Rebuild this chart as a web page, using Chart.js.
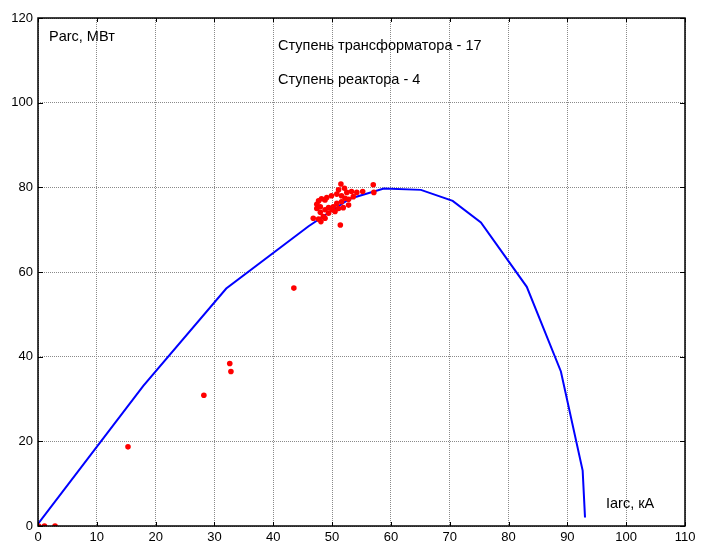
<!DOCTYPE html>
<html lang="ru">
<head>
<meta charset="UTF-8">
<title>Parc(Iarc)</title>
<script src="https://cdn.jsdelivr.net/npm/chart.js"></script>
<style>
  html, body { margin: 0; padding: 0; background: #fff; }
  #wrap { width: 701px; height: 544px; }
</style>
</head>
<body>
<div id="wrap"><canvas id="arc" width="701" height="544"></canvas></div>
<script>
// arc power characteristic, kA -> MW
const curveI = [0, 17.9, 32.0, 46.0, 53.0, 58.8, 65.1, 70.5, 75.3, 83.1, 88.9, 92.6, 93.0];
const curveP = [0.5, 33.1, 56.1, 70.8, 77.3, 79.7, 79.4, 76.8, 71.7, 56.5, 36.5, 13.1, 2.0];

// measured points
const measI = [0.1, 1.1, 2.9, 15.3, 28.2, 32.6, 32.8, 43.5,
  51.5, 57.0, 57.1, 52.1, 52.5, 51.1, 50.8, 51.6, 53.3, 54.2, 55.2, 53.6,
  52.8, 49.9, 49.1, 48.2, 47.7, 47.4, 48.8, 48.0, 47.4, 49.4, 50.2, 50.8,
  51.6, 52.2, 51.9, 50.0, 48.8, 48.0, 48.5, 47.7, 46.8, 48.1, 48.8, 51.4,
  50.5, 51.1, 52.8, 49.4];
const measP = [0, 0, 0, 18.7, 30.9, 38.4, 36.5, 56.2,
  80.8, 80.6, 78.8, 79.8, 78.8, 79.4, 78.4, 78.0, 79.0, 78.8, 79.0, 77.8,
  77.2, 78.0, 77.6, 77.3, 76.8, 76.0, 77.0, 75.4, 75.0, 75.2, 75.4, 76.2,
  76.6, 77.4, 75.2, 74.7, 74.7, 74.1, 73.1, 72.5, 72.7, 71.9, 72.7, 71.1,
  74.3, 75.0, 75.8, 73.9];

const xTicks = [0, 10, 20, 30, 40, 50, 60, 70, 80, 90, 100, 110];
const yTicks = [0, 20, 40, 60, 80, 100, 120];

const toXY = (xs, ys) => xs.map((x, i) => ({ x: x, y: ys[i] }));

const FONT = 'Liberation Sans, Arial, sans-serif';

// box around the axes with inward ticks, plus text labels
const frame = {
  id: 'frame',
  afterDraw(chart) {
    const { ctx, chartArea: a, scales } = chart;
    ctx.save();
    ctx.strokeStyle = '#000';
    ctx.lineWidth = 1;
    ctx.beginPath();
    xTicks.forEach(v => {
      const px = Math.round(scales.x.getPixelForValue(v)) + 0.5;
      ctx.moveTo(px, a.bottom); ctx.lineTo(px, a.bottom - 4);
      ctx.moveTo(px, a.top); ctx.lineTo(px, a.top + 4);
    });
    yTicks.forEach(v => {
      const py = Math.round(scales.y.getPixelForValue(v)) + 0.5;
      ctx.moveTo(a.left, py); ctx.lineTo(a.left + 5, py);
      ctx.moveTo(a.right, py); ctx.lineTo(a.right - 5, py);
    });
    ctx.stroke();
    ctx.lineWidth = 1.5;
    ctx.strokeRect(a.left, a.top, a.right - a.left, a.bottom - a.top);

    ctx.fillStyle = '#000';
    ctx.textBaseline = 'middle';
    ctx.textAlign = 'left';
    ctx.font = '14.5px ' + FONT;
    ctx.fillText('Parc, МВт', a.left + 11, a.top + 19);
    ctx.fillText('Ступень трансформатора - 17', a.left + 240, a.top + 28);
    ctx.fillText('Ступень реактора - 4', a.left + 240, a.top + 62);
    ctx.fillText('Iarc, кА', a.left + 568, a.bottom - 22);
    ctx.restore();
  }
};

new Chart(document.getElementById('arc'), {
  type: 'line',
  data: {
    datasets: [
      {
        type: 'scatter',
        data: toXY(measI, measP),
        showLine: false,
        pointRadius: 2.8,
        pointBackgroundColor: '#ff0000',
        pointBorderWidth: 0
      },
      {
        data: toXY(curveI, curveP),
        borderColor: '#0000ff',
        borderWidth: 2,
        pointRadius: 0,
        tension: 0,
        fill: false
      }
    ]
  },
  options: {
    responsive: false,
    animation: false,
    events: [],
    layout: { padding: { top: 18, right: 16, left: 0, bottom: 0 } },
    plugins: { legend: { display: false }, tooltip: { enabled: false } },
    scales: {
      x: {
        type: 'linear',
        min: 0, max: 110,
        afterBuildTicks: s => { s.ticks = xTicks.map(v => ({ value: v })); },
        afterFit: s => { s.height = 18; },
        grid: { color: '#8a8a8a', lineWidth: 1, drawTicks: false },
        border: { display: false, dash: [1, 1] },
        ticks: { color: '#000', padding: 4, maxRotation: 0, font: { family: FONT, size: 13 } }
      },
      y: {
        type: 'linear',
        min: 0, max: 120,
        afterBuildTicks: s => { s.ticks = yTicks.map(v => ({ value: v })); },
        afterFit: s => { s.width = 38; },
        grid: { color: '#8a8a8a', lineWidth: 1, drawTicks: false },
        border: { display: false, dash: [1, 1] },
        ticks: { color: '#000', padding: 5, font: { family: FONT, size: 13 } }
      }
    }
  },
  plugins: [frame]
});
</script>
</body>
</html>
